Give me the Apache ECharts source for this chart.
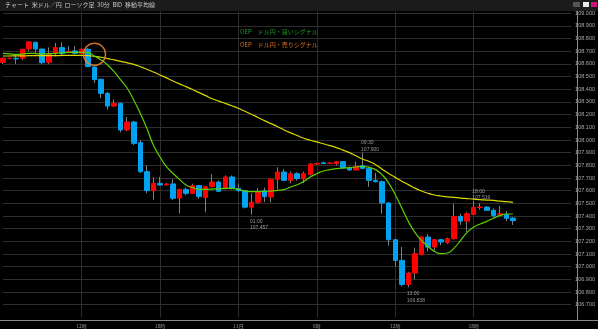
<!DOCTYPE html>
<html><head><meta charset="utf-8">
<script src="https://cdn.jsdelivr.net/npm/echarts@6/dist/echarts.min.js"></script>
<style>html,body{margin:0;padding:0;background:#000;}#c{width:598px;height:329px;}</style>
</head><body><div id="c"></div>
<script>
// ---- data (30-minute USD/JPY candles, index 0 = leftmost, partly cut) ----
const openP = [108.613,108.642,108.645,108.645,108.718,108.771,108.718,108.613,108.684,108.729,108.695,108.703,108.684,108.716,108.576,108.479,108.368,108.268,108.289,108.079,108.142,107.979,107.750,107.600,107.658,107.645,107.653,107.540,107.610,107.579,107.640,107.547,107.632,107.668,107.618,107.708,107.618,107.600,107.470,107.508,107.600,107.550,107.690,107.747,107.682,107.734,107.695,107.729,107.810,107.820,107.815,107.813,107.829,107.779,107.763,107.797,107.776,107.682,107.671,107.503,107.213,107.050,106.860,106.950,107.095,107.234,107.155,107.213,107.192,107.221,107.397,107.360,107.413,107.468,107.471,107.445,107.408,107.413,107.384];
const closeP = [108.645,108.645,108.640,108.716,108.774,108.718,108.610,108.676,108.729,108.684,108.700,108.684,108.716,108.579,108.476,108.368,108.268,108.289,108.079,108.142,107.974,107.750,107.600,107.658,107.645,107.653,107.540,107.610,107.579,107.640,107.553,107.632,107.668,107.595,107.708,107.618,107.600,107.470,107.510,107.592,107.553,107.690,107.747,107.682,107.734,107.695,107.734,107.810,107.815,107.815,107.818,107.829,107.779,107.763,107.792,107.776,107.682,107.671,107.503,107.213,107.050,106.860,106.950,107.103,107.234,107.155,107.213,107.195,107.221,107.397,107.360,107.418,107.468,107.471,107.445,107.403,107.418,107.382,107.363];
const lowP = [108.600,108.638,108.600,108.630,108.700,108.680,108.600,108.600,108.660,108.660,108.690,108.675,108.680,108.575,108.450,108.330,108.240,108.260,108.060,108.070,107.960,107.740,107.580,107.530,107.640,107.643,107.525,107.420,107.565,107.575,107.535,107.430,107.625,107.590,107.610,107.610,107.590,107.460,107.410,107.500,107.510,107.510,107.610,107.675,107.660,107.680,107.660,107.720,107.805,107.810,107.810,107.800,107.770,107.755,107.760,107.770,107.630,107.665,107.420,107.165,107.003,106.845,106.838,106.900,107.090,107.120,107.130,107.170,107.180,107.215,107.330,107.275,107.410,107.450,107.440,107.390,107.405,107.360,107.330];
const highP = [108.650,108.650,108.670,108.720,108.780,108.775,108.720,108.730,108.765,108.770,108.740,108.740,108.725,108.725,108.580,108.485,108.380,108.320,108.295,108.180,108.150,108.000,107.800,107.705,107.710,107.660,107.690,107.615,107.625,107.655,107.645,107.640,107.730,107.680,107.720,107.720,107.655,107.605,107.580,107.620,107.625,107.695,107.785,107.770,107.753,107.745,107.750,107.818,107.820,107.830,107.825,107.835,107.832,107.790,107.830,107.900,107.790,107.740,107.680,107.510,107.220,107.155,106.960,107.150,107.240,107.258,107.220,107.220,107.230,107.497,107.420,107.430,107.519,107.500,107.475,107.460,107.480,107.440,107.390];
// moving averages
const maShort = [108.684,108.680,108.676,108.678,108.684,108.682,108.679,108.681,108.684,108.688,108.692,108.692,108.692,108.689,108.663,108.632,108.592,108.539,108.474,108.408,108.316,108.210,108.092,107.960,107.868,107.789,107.737,107.689,107.645,107.624,107.611,107.611,107.613,107.615,107.618,107.618,107.611,107.597,107.592,107.592,107.595,107.597,107.603,107.608,107.629,107.647,107.674,107.708,107.734,107.755,107.766,107.774,107.779,107.782,107.787,107.792,107.784,107.766,107.726,107.660,107.568,107.463,107.358,107.271,107.208,107.161,107.121,107.103,107.108,107.147,107.208,107.271,107.313,107.337,107.358,107.382,107.403,107.416,107.416];
const maLong = [108.663,108.663,108.664,108.664,108.665,108.665,108.665,108.666,108.666,108.667,108.667,108.667,108.667,108.666,108.660,108.653,108.642,108.632,108.621,108.609,108.597,108.578,108.558,108.536,108.513,108.490,108.466,108.443,108.421,108.398,108.374,108.350,108.326,108.307,108.289,108.270,108.250,108.227,108.203,108.178,108.153,108.129,108.105,108.079,108.056,108.035,108.014,107.998,107.985,107.970,107.955,107.940,107.920,107.900,107.875,107.850,107.830,107.805,107.770,107.735,107.705,107.675,107.648,107.620,107.598,107.580,107.566,107.558,107.551,107.547,107.542,107.538,107.534,107.529,107.526,107.523,107.518,107.513,107.507];
// x-axis tick labels
const tickIdx = [12,24,36,48,60,72];
const tickLabels = ['12時','18時','11日','6時','12時','18時'];
// high / low annotations
const noteIdx = [38,55,62,72];
const noteTime = ['01:00','09:30','13:00','18:00'];
const noteVal = [107.457,107.900,106.838,107.519];
const noteKind = ['low','high','low','high'];
// sell signal
const signalIdx = [14];
const signalPrice = [108.676];
// texts
const titleText = 'チャート  米ドル／円  ローソク足  30分  BID  移動平均線';
const legendBuy = 'OEP　ドル円・買いシグナル';
const legendSell = 'OEP　ドル円・売りシグナル';

const chart = echarts.init(document.getElementById('c'));
const wickData = openP.map((o,i)=>[i,o,closeP[i],lowP[i],highP[i]]);
const bodyData = openP.map((o,i)=>[i,o,closeP[i],Math.min(o,closeP[i]),Math.max(o,closeP[i])]);
const gridCol = '#2e2e2e';
const TR = 'rgba(0,0,0,0)';
const xSplitColors = [TR,gridCol,gridCol,gridCol,gridCol,gridCol,gridCol,TR,TR,TR];
const font = '"Noto Sans CJK JP", "Noto Sans", sans-serif';

chart.setOption({
  backgroundColor:'#000',
  animation:false,
  grid:{left:0,right:21,top:0.6,bottom:11.6},
  xAxis:{type:'value',min:0,max:86.9,interval:12,
    axisLine:{show:false},axisTick:{show:false},
    splitLine:{show:true,lineStyle:{color:xSplitColors,width:1}},
    axisLabel:{show:true,margin:6,color:'#999',fontSize:5,fontFamily:font,
      formatter:v=>{const k=tickIdx.indexOf(Math.round(v)); return (k>=0 && Math.abs(v-tickIdx[k])<0.01)?tickLabels[k]:'';}}
  },
  yAxis:{type:'value',position:'right',min:106.6,max:109.1,interval:0.1,
    axisLine:{show:false},axisTick:{show:false},
    splitLine:{show:true,showMinLine:false,showMaxLine:false,lineStyle:{color:gridCol,width:1}},
    axisLabel:{showMinLabel:false,showMaxLabel:false,margin:4,color:'#aaa',fontSize:5.5,fontFamily:'"Liberation Sans", sans-serif',
      formatter:v=>v.toFixed(3)}
  },
  series:[
    {type:'candlestick',name:'wick',data:wickData,barWidth:1,encode:{x:0,y:[1,2,3,4]},
      itemStyle:{color:'#808080',color0:'#808080',borderColor:'#808080',borderColor0:'#808080',borderWidth:1},z:2},
    {type:'candlestick',name:'body',data:bodyData,barWidth:5,encode:{x:0,y:[1,2,3,4]},
      itemStyle:{color:'#ff0000',color0:'#00a2f0',borderColor:'#ff0000',borderColor0:'#00a2f0',borderWidth:1},z:3},
    {type:'line',data:maLong.map((v,i)=>[i,v]),symbol:'none',smooth:true,lineStyle:{color:'#d8d800',width:1.2},z:4},
    {type:'line',data:maShort.map((v,i)=>[i,v]),symbol:'none',smooth:true,lineStyle:{color:'#5ed000',width:1.2},z:5},
    {type:'scatter',data:signalIdx.map((x,i)=>[x,signalPrice[i]]),symbol:'circle',symbolSize:22,
      itemStyle:{color:TR,borderColor:'#f08a30',borderWidth:1.5},z:6},
    {type:'scatter',data:noteIdx.map((x,i)=>({value:[x, noteKind[i]==='high'?highP[x]:lowP[x]],
        label:{position: noteKind[i]==='high'?[-1,-12.5]:[-1,4]}})),
      symbolSize:1,itemStyle:{color:TR},z:7,
      label:{show:true,color:'#bbb',fontSize:5,lineHeight:6.5,align:'left',fontFamily:'"Liberation Sans", sans-serif',
        formatter:p=>noteTime[p.dataIndex]+'\n'+noteVal[p.dataIndex].toFixed(3)}}
  ],
  graphic:[
    {type:'rect',shape:{x:0,y:0,width:598,height:11},style:{fill:'#1b1b1b'},z:100},
    {type:'text',x:5,y:2,style:{text:titleText,fill:'#c8c8c8',font:'6px '+font},z:101},
    {type:'rect',shape:{x:573,y:2,width:7,height:5},style:{fill:'#555'},z:101},
    {type:'rect',shape:{x:583,y:2,width:6,height:5},style:{fill:'#e8e8e8'},z:101},
    {type:'rect',shape:{x:591,y:2,width:6,height:5},style:{fill:'#d0157a'},z:101},
    {type:'line',shape:{x1:577.5,y1:11,x2:577.5,y2:320.5},style:{stroke:'#8a8a8a',lineWidth:1},z:50},
    {type:'line',shape:{x1:0,y1:320.5,x2:598,y2:320.5},style:{stroke:'#8a8a8a',lineWidth:1},z:50},
    {type:'text',x:240,y:29,style:{text:legendBuy,fill:'#1f9a2a',font:'6px '+font},z:60},
    {type:'text',x:240,y:42,style:{text:legendSell,fill:'#e0701f',font:'6px '+font},z:60}
  ]
});
</script></body></html>
